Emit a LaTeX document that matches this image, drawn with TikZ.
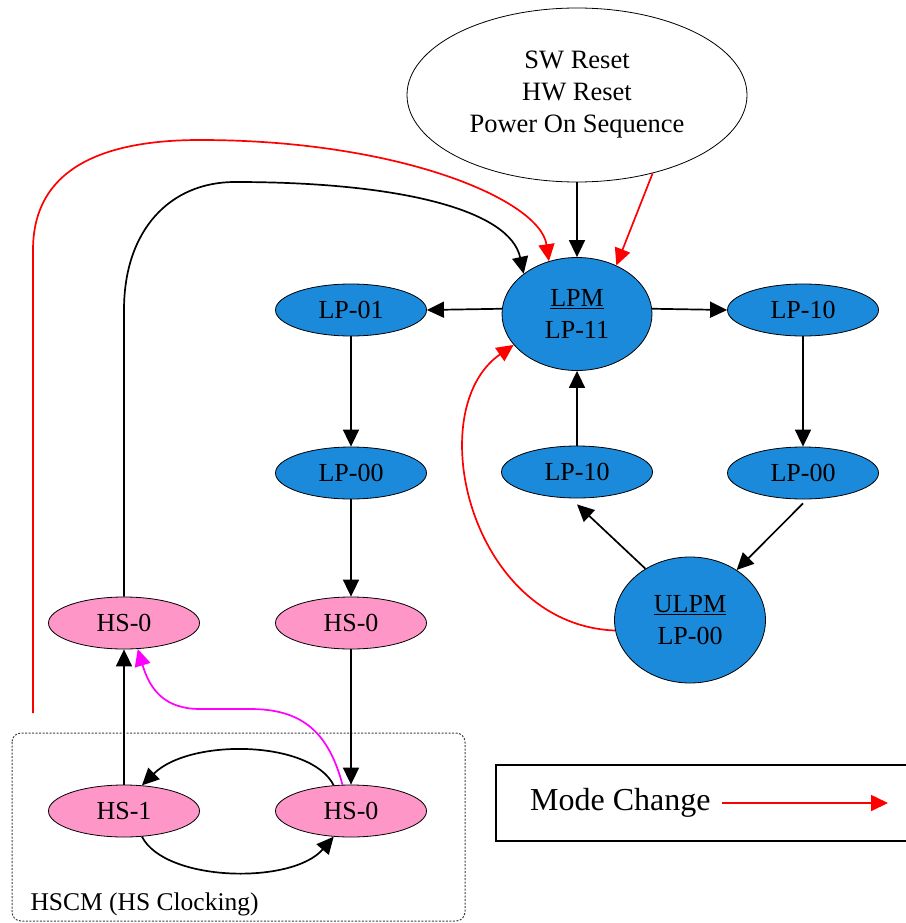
\documentclass[tikz,border=0pt]{standalone}
\usepackage{fontspec}
\setmainfont{Liberation Serif}
\usetikzlibrary{shapes.geometric,arrows.meta}
\definecolor{lpblue}{HTML}{1B8ADA}
\definecolor{hspink}{HTML}{FF96C8}
\definecolor{magline}{HTML}{FF00FF}
\definecolor{redline}{HTML}{FF0000}
\begin{document}
\begin{tikzpicture}[x=1pt,y=-1pt,
 st/.style={ellipse,draw=black,line width=0.8pt,inner sep=0pt,minimum width=151pt,minimum height=52pt,font=\fontsize{26}{32}\selectfont,align=center},
 lp/.style={st,fill=lpblue},
 hs/.style={st,fill=hspink},
 tip/.style={-{Triangle[length=17pt,width=16pt]}},
 arr/.style={line width=1.7pt,tip},
 redarr/.style={line width=1.7pt,redline,tip},
 magarr/.style={line width=1.7pt,magline,tip}
]
\useasboundingbox (0,0) rectangle (905,923);

% HSCM group box
\draw[line width=1pt,black!75,dash pattern=on 2pt off 1.5pt,rounded corners=9pt] (12,733) rectangle (465,921);
\node[anchor=base west,font=\fontsize{25.5}{30}\selectfont] (hscm) at (27,910) {HSCM (HS Clocking)};

% nodes
\node[st,minimum width=340pt,minimum height=174pt,font=\fontsize{26.5}{32}\selectfont] (reset) at (577,95) {SW Reset\\HW Reset\\Power On Sequence};
\node[lp,minimum width=150pt,minimum height=113pt] (lpm) at (577,314) {\underline{LPM}\\LP-11};
\node[lp] (lp01) at (351,310) {LP-01};
\node[lp] (lp00a) at (351,473) {LP-00};
\node[lp] (lp10a) at (803,310) {LP-10};
\node[lp] (lp00b) at (803,473) {LP-00};
\node[lp] (lp10b) at (577,472) {LP-10};
\node[lp,minimum width=151pt,minimum height=126pt] (ulpm) at (690,620) {\underline{ULPM}\\LP-00};
\node[hs] (hs0a) at (124,623) {HS-0};
\node[hs] (hs0b) at (351,623) {HS-0};
\node[hs] (hs1) at (124,811) {HS-1};
\node[hs] (hs0c) at (351,811) {HS-0};

% black connectors
\draw[arr] (reset.south) -- (lpm.north);
\draw[arr] (lpm.176) -- (lp01.east);
\draw[arr] (lpm.4) -- (lp10a.west);
\draw[arr] (lp01.south) -- (lp00a.north);
\draw[arr] (lp00a.south) -- (hs0b.north);
\draw[arr] (hs0b.south) -- (hs0c.north);
\draw[arr] (hs1.north) -- (hs0a.south);
\draw[arr] (lp10a.south) -- (lp00b.north);
\draw[arr] ([yshift=-4pt]lp00b.south) -- (ulpm.47);
\draw[arr] (ulpm.131) -- ([yshift=-6pt]lp10b.south);
\draw[arr] (lp10b.north) -- (lpm.south);
\draw[arr] (hs0a.north) -- (124,310) .. controls (124,230) and (170,182) .. (235,182) .. controls (400,182) and (510,210) .. (lpm.143);
\draw[arr] (hs0c.124) .. controls (311,740) and (190,738) .. (hs1.55);
\draw[arr] (hs1.-55) .. controls (165,882) and (292,885) .. (hs0c.-124);

% red connectors
\coordinate (redstart) at (33,713);
\draw[redarr] (redstart) -- (33,250) .. controls (33,170) and (100,140) .. (200,140) .. controls (400,140) and (540,200) .. (lpm.118);
\draw[redarr] (reset.-46) -- (lpm.51);
\draw[redarr] (ulpm.188) .. controls (470,625) and (420,410) .. (lpm.206);

% magenta connector
\draw[magarr] (hs0c.108) .. controls (328,730) and (300,709) .. (250,709) -- (200,709) .. controls (165,709) and (150,690) .. (hs0a.-62);

% legend
\draw[line width=1.2pt] (910,765) -- (496,765) -- (496,841) -- (910,841);
\node[anchor=west,font=\fontsize{32}{36}\selectfont,inner sep=0pt] (mode) at (530,803) {Mode Change};
\coordinate (ms) at (722,803);
\coordinate (me) at (888,803);
\draw[redarr] (ms) -- (me);
\end{tikzpicture}
\end{document}
